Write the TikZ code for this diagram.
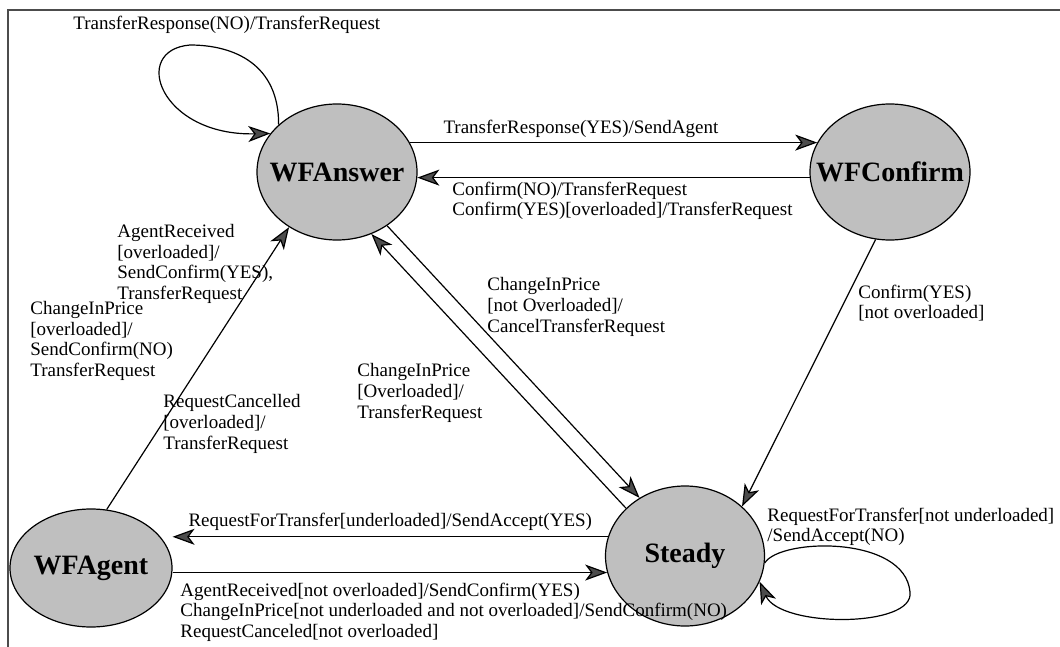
\documentclass[tikz,border=0pt]{standalone}
\usepackage{fontspec}
\setmainfont{Liberation Serif}
\usetikzlibrary{arrows.meta,shapes.geometric}

\begin{document}
\begin{tikzpicture}[
    x=0.5pt, y=-0.5pt,
    fsmstate/.style={ellipse, draw, line width=0.6pt, fill=black!25, inner sep=0pt},
    statename/.style={font=\fontsize{14}{16}\selectfont\bfseries, inner sep=0pt},
    flow/.style={-{Stealth[length=11pt, width=8pt, inset=3pt, fill=black!70]}, line width=0.6pt},
    lab/.style={font=\fontsize{9.5}{10.3}\selectfont, inner sep=0pt, align=left},
    frame/.style={line width=0.7pt, black!70}
]
\useasboundingbox (0,0) rectangle (1060,647);
\draw[frame] (8,647) -- (8,10) -- (1060,10);

% states
\node[fsmstate, minimum width=80pt, minimum height=68pt, label={[statename]center:WFAnswer}] (ans) at (337,172) {};
\node[fsmstate, minimum width=80pt, minimum height=68pt, label={[statename]center:WFConfirm}] (conf) at (890,172) {};
\node[fsmstate, minimum width=81pt, minimum height=59pt, label={[statename]center:WFAgent}] (agent) at (91,568) {};
\node[fsmstate, minimum width=79.5pt, minimum height=70pt, label={[statename]center:Steady}] (steady) at (685,556) {};

% loop corners
\coordinate (ansloop) at (190,45);
\coordinate (steadyloop) at (910,592);

% transitions
\draw[flow] (ans.141) .. controls (279,65) and (235,45) .. (ansloop) .. controls (130,50) and (160,136) .. (ans.150);
\draw[flow] (ans.22) -- node[lab, above=2pt, pos=0.42] (lbsend) {TransferResponse(YES)/SendAgent} (conf.158);
\draw[flow] (conf.184) -- (ans.-4);
\draw[flow] (agent.75) -- (ans.229);
\draw[flow] (ans.-47) -- (steady.128);
\draw[flow] (steady.141) -- (ans.-61);
\draw[flow] (conf.258) -- (steady.41);
\draw[flow] (steady.166) -- node[lab, above=3pt] (lbaccept) {RequestForTransfer[underloaded]/SendAccept(YES)} (steady.166 -| agent.east);
\draw[flow] (agent.east |- steady.192) -- (steady.192);
\draw[flow] (steady.-5) .. controls (780,538) and (905,535) .. (steadyloop) .. controls (915,628) and (780,628) .. (steady.-19);

% labels
\node[lab, anchor=west] (lbnoloop) at (73,25) {TransferResponse(NO)/TransferRequest};
\node[lab, anchor=west] (lbconfirm) at (452,201) {Confirm(NO)/TransferRequest\\Confirm(YES)[overloaded]/TransferRequest};
\node[lab, anchor=west] (lbagentyes) at (117,264) {AgentReceived\\{}[overloaded]/\\SendConfirm(YES),\\TransferRequest};
\node[lab, anchor=west] (lbagentno) at (30,341) {ChangeInPrice\\{}[overloaded]/\\SendConfirm(NO)\\TransferRequest};
\node[lab, anchor=west] (lbcancelled) at (163,424) {RequestCancelled\\{}[overloaded]/\\TransferRequest};
\node[lab, anchor=west] (lbcancel) at (487,307) {ChangeInPrice\\{}[not Overloaded]/\\CancelTransferRequest};
\node[lab, anchor=west] (lbover) at (357,393) {ChangeInPrice\\{}[Overloaded]/\\TransferRequest};
\node[lab, anchor=west] (lbnotover) at (858,303) {Confirm(YES)\\{}[not overloaded]};
\node[lab, anchor=west] (lbsteady) at (180,612) {AgentReceived[not overloaded]/SendConfirm(YES)\\ChangeInPrice[not underloaded and not overloaded]/SendConfirm(NO)\\RequestCanceled[not overloaded]};
\node[lab, anchor=west] (lbnotunder) at (767,527) {RequestForTransfer[not underloaded]\\/SendAccept(NO)};
\end{tikzpicture}
\end{document}
